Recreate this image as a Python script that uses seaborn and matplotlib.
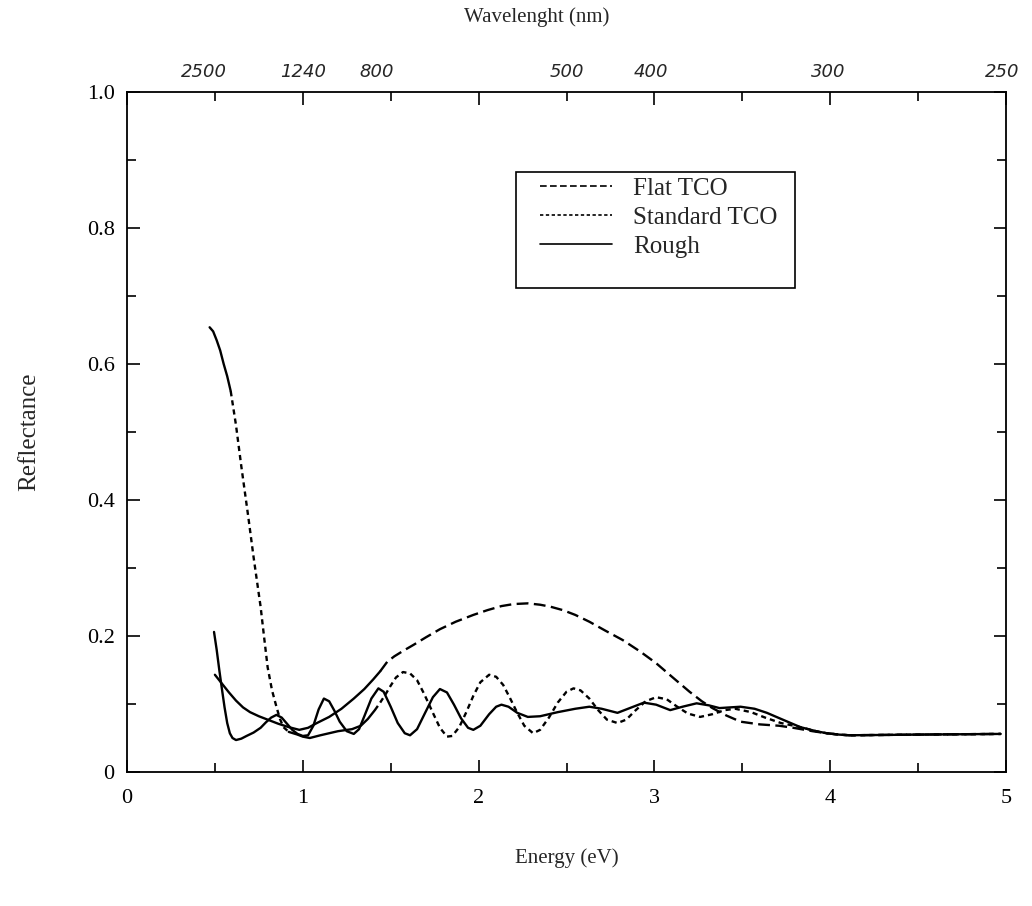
import numpy as np
import pandas as pd
import matplotlib
matplotlib.use("Agg")
import matplotlib.pyplot as plt
from matplotlib.lines import Line2D
from matplotlib.patches import Rectangle
from matplotlib.ticker import MultipleLocator, FuncFormatter, FixedLocator, NullLocator
import seaborn as sns

# ---------------- data ----------------
flat_E = [0.50, 0.54, 0.58, 0.62, 0.66, 0.70, 0.75, 0.80, 0.86, 0.92, 0.98, 1.03, 1.08, 1.15,
          1.22, 1.29, 1.35, 1.40, 1.44, 1.48, 1.52, 1.57, 1.63, 1.70, 1.78, 1.87, 1.97, 2.05,
          2.13, 2.20, 2.28, 2.35, 2.41, 2.48, 2.55, 2.63, 2.72, 2.82, 2.92, 3.01, 3.10, 3.20,
          3.27, 3.33, 3.41, 3.49, 3.60, 3.71, 3.79, 3.90, 3.98, 4.05, 4.11, 4.50, 4.97]
flat_R = [0.143, 0.130, 0.117, 0.105, 0.095, 0.088, 0.082, 0.077, 0.071, 0.066, 0.062, 0.065, 0.072, 0.081,
          0.093, 0.108, 0.122, 0.136, 0.148, 0.162, 0.170, 0.178, 0.187, 0.198, 0.210, 0.221, 0.231, 0.238,
          0.244, 0.247, 0.248, 0.246, 0.243, 0.238, 0.231, 0.221, 0.208, 0.194, 0.177, 0.160, 0.140, 0.118,
          0.104, 0.094, 0.083, 0.074, 0.070, 0.068, 0.065, 0.060, 0.057, 0.055, 0.054, 0.055, 0.056]

std_E = [0.47, 0.49, 0.51, 0.53, 0.55, 0.57, 0.59, 0.62, 0.65, 0.69, 0.72, 0.76, 0.78, 0.80,
         0.825, 0.85, 0.87, 0.89, 0.92, 0.97, 1.00, 1.04, 1.10, 1.20, 1.28, 1.33, 1.37, 1.41,
         1.44, 1.47, 1.50, 1.53, 1.57, 1.61, 1.65, 1.69, 1.74, 1.78, 1.82, 1.85, 1.89, 1.93,
         1.97, 2.01, 2.06, 2.10, 2.14, 2.18, 2.22, 2.26, 2.31, 2.35, 2.40, 2.45, 2.50, 2.54,
         2.58, 2.63, 2.68, 2.73, 2.79, 2.84, 2.89, 2.95, 3.01, 3.07, 3.13, 3.19, 3.26, 3.33,
         3.40, 3.46, 3.55, 3.63, 3.72, 3.83, 3.92, 3.98, 4.05, 4.11, 4.50, 4.97]
std_R = [0.654, 0.648, 0.635, 0.620, 0.600, 0.582, 0.560, 0.510, 0.450, 0.375, 0.316, 0.243, 0.198, 0.154,
         0.120, 0.096, 0.078, 0.066, 0.059, 0.055, 0.052, 0.050, 0.054, 0.060, 0.063, 0.068, 0.078, 0.091,
         0.102, 0.114, 0.127, 0.139, 0.147, 0.145, 0.135, 0.115, 0.087, 0.065, 0.052, 0.053, 0.066, 0.088,
         0.112, 0.132, 0.143, 0.140, 0.128, 0.108, 0.087, 0.068, 0.057, 0.062, 0.080, 0.102, 0.118, 0.123,
         0.120, 0.108, 0.091, 0.077, 0.072, 0.077, 0.090, 0.104, 0.110, 0.107, 0.096, 0.086, 0.081, 0.085,
         0.091, 0.093, 0.088, 0.080, 0.072, 0.066, 0.060, 0.057, 0.055, 0.054, 0.055, 0.056]

rough_E = [0.495, 0.51, 0.525, 0.54, 0.555, 0.57, 0.585, 0.60, 0.62, 0.65, 0.68, 0.72, 0.76, 0.79,
           0.82, 0.85, 0.88, 0.91, 0.94, 0.97, 1.00, 1.03, 1.06, 1.09, 1.12, 1.15, 1.18, 1.21,
           1.25, 1.29, 1.32, 1.35, 1.39, 1.43, 1.46, 1.50, 1.54, 1.58, 1.61, 1.65, 1.69, 1.74,
           1.78, 1.82, 1.86, 1.90, 1.94, 1.97, 2.01, 2.06, 2.10, 2.13, 2.17, 2.22, 2.28, 2.35,
           2.45, 2.55, 2.63, 2.70, 2.79, 2.86, 2.94, 3.01, 3.09, 3.16, 3.24, 3.31, 3.37, 3.43,
           3.49, 3.57, 3.64, 3.73, 3.83, 3.92, 3.98, 4.05, 4.11, 4.50, 4.97]
rough_R = [0.206, 0.180, 0.150, 0.122, 0.095, 0.072, 0.057, 0.050, 0.047, 0.049, 0.053, 0.058, 0.065, 0.073,
           0.080, 0.084, 0.080, 0.071, 0.062, 0.056, 0.053, 0.054, 0.068, 0.092, 0.108, 0.104, 0.090, 0.074,
           0.060, 0.056, 0.063, 0.082, 0.108, 0.123, 0.118, 0.096, 0.072, 0.057, 0.054, 0.063, 0.084, 0.110,
           0.122, 0.117, 0.099, 0.079, 0.065, 0.062, 0.068, 0.085, 0.096, 0.099, 0.096, 0.087, 0.081, 0.082,
           0.088, 0.093, 0.096, 0.093, 0.087, 0.094, 0.102, 0.099, 0.091, 0.096, 0.101, 0.098, 0.094, 0.095,
           0.096, 0.093, 0.087, 0.077, 0.066, 0.060, 0.057, 0.055, 0.054, 0.055, 0.056]

series_labels = ["Flat TCO", "Standard TCO", "Rough"]
wavelength_labels = ["2500", "1240", "800", "500", "400", "300", "250"]
wavelength_label_pos_eV = [0.44, 1.00, 1.42, 2.50, 2.98, 3.99, 4.98]
x_ticks = [0, 1, 2, 3, 4, 5]
y_ticks = [0, 0.2, 0.4, 0.6, 0.8, 1.0]

# ---------------- style ----------------
sns.set_theme(style="ticks")
plt.rcParams["font.family"] = ["Liberation Serif", "DejaVu Serif"]
plt.rcParams["axes.linewidth"] = 1.3

LW = 1.7
FLAT_DASH = (5.0, 2.3)
STD_DASH = (2.2, 1.7)

fig = plt.figure(figsize=(10.32, 9.06), dpi=100)
ax = fig.add_axes([127 / 1032, 1 - 772 / 906, 879 / 1032, 680 / 906])


def draw(E, R, lo, hi, dashes, ax):
    df = pd.DataFrame({"E": E, "R": R})
    seg = df[(df["E"] >= lo) & (df["E"] <= hi)]
    sns.lineplot(data=seg, x="E", y="R", ax=ax, color="black", lw=LW,
                 estimator=None, sort=False, legend=False)
    l = ax.lines[-1]
    l.set_solid_joinstyle("round")
    l.set_dash_joinstyle("round")
    if dashes is not None:
        l.set_dashes(dashes)
    return l


# Flat TCO: solid in IR part, long dashes above 1.44 eV
draw(flat_E, flat_R, 0.0, 1.44, None, ax)
draw(flat_E, flat_R, 1.44, 6.0, FLAT_DASH, ax)
# Standard TCO
draw(std_E, std_R, 0.0, 0.59, None, ax)
draw(std_E, std_R, 0.59, 0.92, STD_DASH, ax)
draw(std_E, std_R, 0.92, 1.41, None, ax)
draw(std_E, std_R, 1.41, 6.0, STD_DASH, ax)
# Rough
draw(rough_E, rough_R, 0.0, 6.0, None, ax)

ax.set_xlim(0, 5)
ax.set_ylim(0, 1.0)

for s in ax.spines.values():
    s.set_visible(True)
    s.set_color("black")

ax.xaxis.set_major_locator(FixedLocator(x_ticks))
ax.xaxis.set_minor_locator(MultipleLocator(0.5))
ax.yaxis.set_major_locator(FixedLocator(y_ticks))
ax.yaxis.set_minor_locator(MultipleLocator(0.1))
ax.yaxis.set_major_formatter(FuncFormatter(lambda v, p: "0" if abs(v) < 1e-9 else f"{v:.1f}"))
ax.xaxis.set_major_formatter(FuncFormatter(lambda v, p: f"{v:.0f}"))

ax.tick_params(which="both", direction="in", top=True, right=True, colors="black",
               labelsize=16, width=1.2)
ax.tick_params(which="major", length=9)
ax.tick_params(which="minor", length=6.5)
ax.tick_params(axis="x", which="major", pad=12)
ax.tick_params(axis="y", which="major", pad=9)

ax.set_xlabel("Energy (eV)", fontsize=15)
ax.set_ylabel("Reflectance", fontsize=18)
ax.xaxis.set_label_coords(0.5, -(848 - 772) / 680)
ax.yaxis.set_label_coords((40 - 127) / 879, 0.5)

# top wavelength axis (labels only)
sec = ax.secondary_xaxis("top")
sec.xaxis.set_major_locator(FixedLocator(wavelength_label_pos_eV))
sec.xaxis.set_minor_locator(NullLocator())
sec.set_xticklabels(wavelength_labels, family=["DejaVu Sans"], fontsize=13, style="italic")
sec.tick_params(length=0, pad=8)
sec.spines["top"].set_visible(False)
fig.text(537 / 1032, 1 - 17 / 906, "Wavelenght (nm)", fontsize=15, ha="center", va="center")

# legend: entries without frame, plus the box drawn around them
handles = [Line2D([0], [0], color="black", lw=1.2, dashes=(4, 2)),
           Line2D([0], [0], color="black", lw=1.2, dashes=(2, 1.5)),
           Line2D([0], [0], color="black", lw=1.2)]
leg = ax.legend(handles, series_labels, loc="upper left",
                bbox_to_anchor=((532 - 127) / 879, (772 - 170) / 680),
                fontsize=18, frameon=False,
                handlelength=2.9, handletextpad=0.85, labelspacing=0.25,
                borderpad=0.3, borderaxespad=0)
box = Rectangle(((516 - 127) / 879, (772 - 288) / 680), (795 - 516) / 879, (288 - 172) / 680,
                transform=ax.transAxes, fill=False, edgecolor="black", lw=1.2, zorder=4)
ax.add_patch(box)

fig.savefig("out.png", dpi=100, facecolor="white")
